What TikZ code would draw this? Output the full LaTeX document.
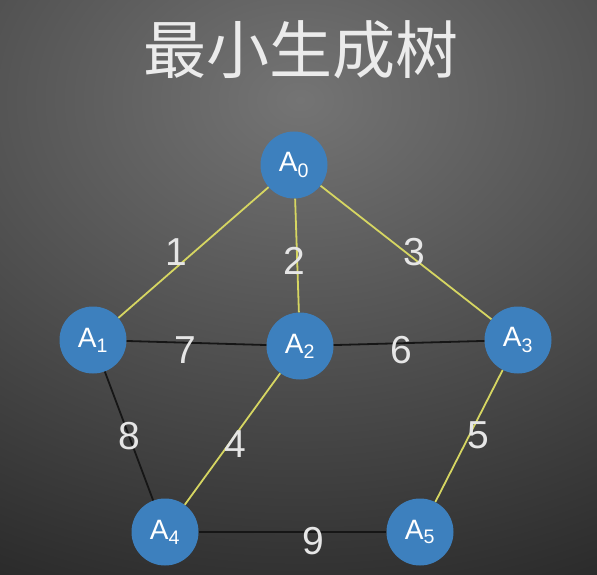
\documentclass[tikz,border=0pt]{standalone}
\usepackage{fontspec}
\setmainfont{Liberation Sans}
\newfontfamily\cjk{Noto Sans CJK SC}
\definecolor{bgtop}{HTML}{747474}
\definecolor{bgbot}{HTML}{262626}
\definecolor{vblue}{HTML}{3D80BE}
\definecolor{mstyellow}{HTML}{D6D662}
\definecolor{edgeblack}{HTML}{161616}
\definecolor{labelgray}{HTML}{E6E6E6}
\begin{document}
\begin{tikzpicture}[x=1pt, y=-1pt,
    vertex/.style={circle, fill=vblue, minimum size=67pt, inner sep=0pt,
      text=white, font=\fontsize{28}{28}\selectfont},
    mst/.style={draw=mstyellow, line width=1.8pt},
    other/.style={draw=edgeblack, line width=1.8pt},
    weight/.style={text=labelgray, font=\fontsize{39}{39}\selectfont, inner sep=0pt}]
    \useasboundingbox (0,0) rectangle (597,575);
    % background
    \fill[bgbot] (0,0) rectangle (597,575);
    \begin{scope}
        \clip (0,0) rectangle (597,575);
        \shade[inner color=bgtop, outer color=bgbot] (300,100) ellipse (750pt and 560pt);
    \end{scope}
    \node(title) at (301,50) [text=white!92!black, font=\cjk\fontsize{63}{63}\selectfont] {最小生成树};
    % vertices
    \node(A0) at (294,165) [vertex] {A\textsubscript{0}};
    \node(A1) at (93,340) [vertex] {A\textsubscript{1}};
    \node(A2) at (300,346) [vertex] {A\textsubscript{2}};
    \node(A3) at (518,340) [vertex] {A\textsubscript{3}};
    \node(A4) at (165,532) [vertex] {A\textsubscript{4}};
    \node(A5) at (420,532) [vertex] {A\textsubscript{5}};
    % edges
    \draw[other](A1) to node [weight, xshift=-11pt, yshift=-7pt] {7}(A2);
    \draw[other](A2) to node [weight, xshift=-8pt, yshift=-7pt] {6}(A3);
    \draw[other](A1) to node [weight] {8}(A4);
    \draw[other](A4) to node [weight, xshift=21pt, yshift=-9pt] {9}(A5);
    \draw[mst](A0) to node [weight, xshift=-17pt] {1}(A1);
    \draw[mst](A0) to node [weight, xshift=-3pt, yshift=-5pt] {2}(A2);
    \draw[mst](A0) to node [weight, xshift=8pt] {3}(A3);
    \draw[mst](A2) to node [weight, xshift=3pt, yshift=-5pt] {4}(A4);
    \draw[mst](A3) to node [weight, xshift=9pt, yshift=1pt] {5}(A5);
\end{tikzpicture}
\end{document}
